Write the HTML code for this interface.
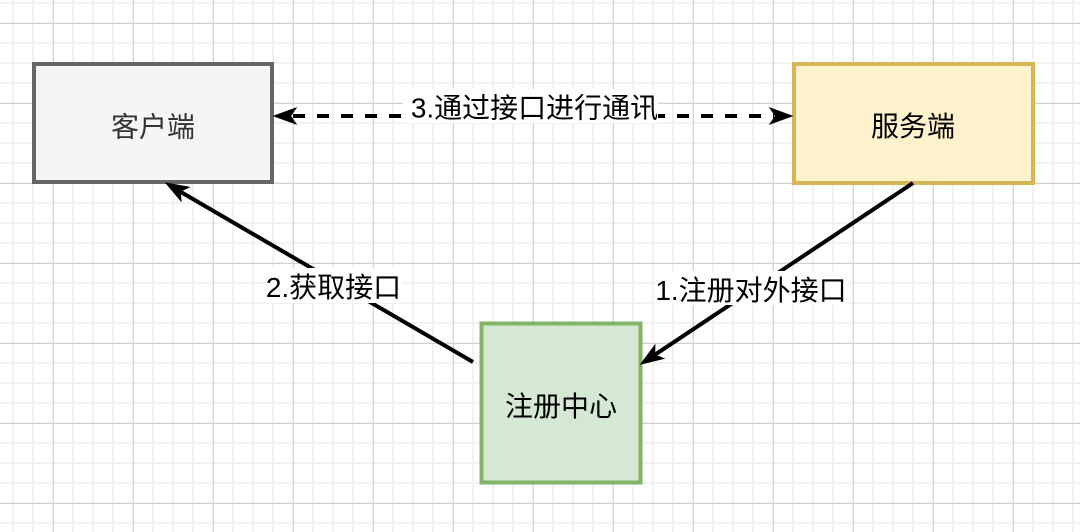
<!DOCTYPE html>
<html><head><meta charset="utf-8"><style>
html,body{margin:0;padding:0;background:#fff;}
svg{display:block;}
text{font-family:"Liberation Sans","Noto Sans CJK SC","WenQuanYi Zen Hei",sans-serif;font-size:28px;}
</style></head><body>
<svg width="1080" height="532" viewBox="0 0 1080 532" xmlns="http://www.w3.org/2000/svg">
<defs>
<pattern id="minor" patternUnits="userSpaceOnUse" x="0" y="0" width="20" height="20">
<rect x="12" y="0" width="2" height="20" fill="#f2f2f2"/>
<rect x="0" y="2" width="20" height="2" fill="#f2f2f2"/>
</pattern>
<pattern id="major" patternUnits="userSpaceOnUse" x="0" y="0" width="80" height="80">
<rect x="53" y="0" width="1" height="80" fill="#d2d2d2"/>
<rect x="0" y="23" width="80" height="1" fill="#d2d2d2"/>
</pattern>
</defs>
<rect width="1080" height="532" fill="#fff"/>
<rect width="1080" height="532" fill="url(#minor)"/>
<rect width="1080" height="532" fill="url(#major)"/>

<!-- boxes -->
<rect x="34" y="64" width="238" height="118" fill="#f5f5f5" stroke="#666666" stroke-width="4"/>
<rect x="794" y="64" width="239" height="119" fill="#fff2cc" stroke="#d6b656" stroke-width="4"/>
<rect x="481.5" y="323.5" width="159" height="159" fill="#d5e8d4" stroke="#82b366" stroke-width="4"/>

<text x="153" y="136.5" text-anchor="middle" fill="#333333">客户端</text>
<text x="913" y="136" text-anchor="middle" fill="#000">服务端</text>
<text x="561" y="416" text-anchor="middle" fill="#000">注册中心</text>

<!-- dashed connector -->
<line x1="293" y1="116" x2="774" y2="116" stroke="#000" stroke-width="4" stroke-dasharray="12 12"/>
<path d="M274,116 L296,108 L290.5,116 L296,124 Z" fill="#000" stroke="#000" stroke-width="1"/>
<path d="M792,116 L770,108 L775.5,116 L770,124 Z" fill="#000" stroke="#000" stroke-width="1"/>
<rect x="403" y="89" width="255" height="34" fill="#fff"/>
<text x="534.5" y="117.5" text-anchor="middle" fill="#000">3.通过接口进行通讯</text>

<!-- arrow 2: registry -> client -->
<line x1="473" y1="362" x2="180" y2="191.5" stroke="#000" stroke-width="4"/>
<path d="M166,183 L181,201 L180.3,191.3 L189,187.2 Z" fill="#000" stroke="#000" stroke-width="1"/>
<rect x="265" y="268" width="137" height="35" fill="#fff"/>
<text x="333.5" y="297" text-anchor="middle" fill="#000">2.获取接口</text>

<!-- arrow 1: server -> registry -->
<line x1="913" y1="183" x2="655" y2="354.7" stroke="#000" stroke-width="4"/>
<path d="M641,364 L663.7,358.5 L654.7,354.9 L654.9,345.2 Z" fill="#000" stroke="#000" stroke-width="1"/>
<rect x="655" y="271" width="193" height="34" fill="#fff"/>
<text x="751" y="300" text-anchor="middle" fill="#000">1.注册对外接口</text>
</svg>
</body></html>
